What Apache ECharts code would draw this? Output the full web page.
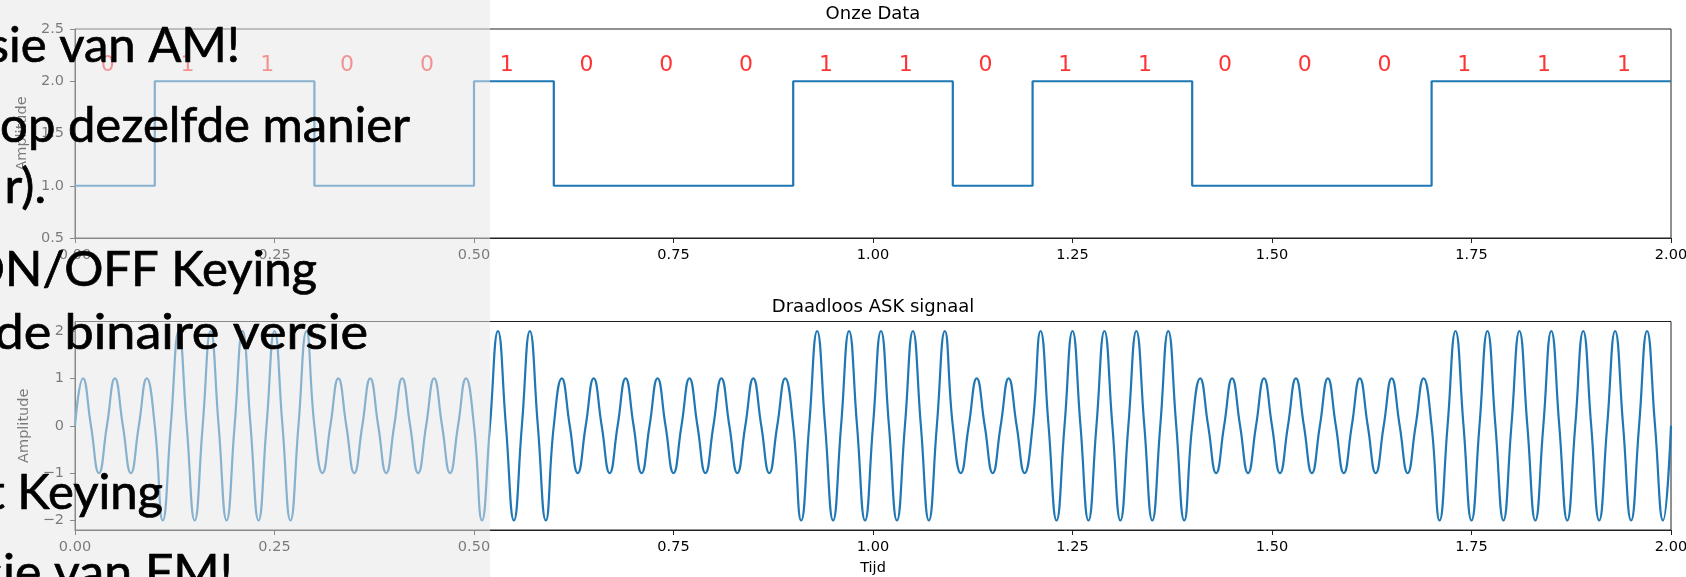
<!DOCTYPE html>
<html>
<head>
<meta charset="utf-8">
<title>ASK</title>
<script src="https://cdn.jsdelivr.net/npm/echarts@6/dist/echarts.min.js"></script>
<style>
  html, body { margin: 0; padding: 0; background: #fff; }
  #chart { width: 1686px; height: 577px; }
</style>
</head>
<body>
<div id="chart"></div>
<script>
// the bit string written above the top plot
const bits = ['0', '1', '1', '0', '0', '1', '0', '0', '0', '1', '1', '0', '1', '1', '0', '0', '0', '1', '1', '1'];
// square wave level of each bit
const levels = [1, 2, 2, 1, 1, 2, 1, 1, 1, 2, 2, 1, 2, 2, 1, 1, 1, 2, 2, 2];
const bitTime = 0.1;

// ASK signal: the top / bottom of every half cycle (5 half cycles per bit)
const halfPeaks = [
   1, -1,  1, -1,  1,
  -2,  2, -2,  2, -2,
   2, -2,  2, -2,  2,
  -1,  1, -1,  1, -1,
   1, -1,  1, -1,  1,
  -2,  2, -2,  2, -2,
   1, -1,  1, -1,  1,
  -1,  1, -1,  1, -1,
   1, -1,  1, -1,  1,
  -2,  2, -2,  2, -2,
   2, -2,  2, -2,  2,
  -1,  1, -1,  1, -1,
   2, -2,  2, -2,  2,
  -2,  2, -2,  2, -2,
   1, -1,  1, -1,  1,
  -1,  1, -1,  1, -1,
   1, -1,  1, -1,  1,
  -2,  2, -2,  2, -2,
   2, -2,  2, -2,  2,
  -2,  2, -2,  2, -2
];
const halfCycle = 0.02;

const askTicks = [-2, -1, 0, 1, 2];

// slide text lying over the figure (right end and baseline in px, width stretch)
const slideLines = [
  { text: 'sie van AM!', right: 240, base: 63, sx: 1 },
  { text: 'op dezelfde manier', right: 410, base: 143, sx: 1 },
  { text: 'r).', right: 46, base: 204, sx: 1 },
  { text: 'ON/OFF Keying', right: 317, base: 287, sx: 1 },
  { text: 'de binaire versie', right: 368, base: 350, sx: 1.065 },
  { text: 't Keying', right: 163, base: 510, sx: 1 },
  { text: 'sie van FM!', right: 233, base: 590, sx: 1.02 }
];

// build series data
const squareData = levels.map((v, i) => [i * bitTime, v]);
squareData.push([bits.length * bitTime, levels[levels.length - 1]]);

const askData = [[0, 0]];
halfPeaks.forEach((p, k) => {
  askData.push([k * halfCycle + halfCycle / 2, p]);
  askData.push([(k + 1) * halfCycle, 0]);
});

const labelData = bits.map((b, i) => [i * bitTime + 0.041, 2.15]);

const FONT = 'DejaVu Sans';
const BLUE = '#1f77b4';
const SLIDE_FONT = 49;

const axisCommon = {
  type: 'value',
  axisLine: { show: true, onZero: false, lineStyle: { color: '#222', width: 1 } },
  axisTick: { show: true, inside: false, length: 5, lineStyle: { color: '#222', width: 1 } },
  splitLine: { show: false },
  axisLabel: { color: '#000', fontSize: 14.5, fontFamily: FONT }
};

const chart = echarts.init(document.getElementById('chart'), null, { renderer: 'canvas' });

const panelTexts = slideLines.map(l => ({
  type: 'text',
  z: 101,
  silent: true,
  x: l.right,
  y: l.base - 0.387 * SLIDE_FONT + 2,
  scaleX: l.sx,
  style: {
    text: l.text,
    x: 0,
    y: 0,
    font: SLIDE_FONT + 'px Lato',
    fill: '#000',
    stroke: '#000',
    lineWidth: 0.7,
    textAlign: 'right',
    align: 'right',
    textVerticalAlign: 'middle',
    verticalAlign: 'middle'
  }
}));

const option = {
  animation: false,
  backgroundColor: '#fff',
  textStyle: { fontFamily: FONT },
  title: [
    {
      text: 'Onze Data', left: 873, top: 5.5, textAlign: 'center', padding: 0,
      textStyle: { fontFamily: FONT, fontSize: 18, fontWeight: 'normal', color: '#000' }
    },
    {
      text: 'Draadloos ASK signaal', left: 873, top: 298, textAlign: 'center', padding: 0,
      textStyle: { fontFamily: FONT, fontSize: 18, fontWeight: 'normal', color: '#000' }
    }
  ],
  grid: [
    { left: 75, right: 15, top: 29, height: 209, show: true, borderColor: '#222', borderWidth: 1,
      backgroundColor: 'transparent', containLabel: false, outerBoundsMode: 'none' },
    { left: 75, right: 15, top: 321.5, height: 208.5, show: true, borderColor: '#222', borderWidth: 1,
      backgroundColor: 'transparent', containLabel: false, outerBoundsMode: 'none' }
  ],
  xAxis: [
    Object.assign({}, axisCommon, {
      gridIndex: 0, min: 0, max: 2, interval: 0.25,
      axisLabel: Object.assign({}, axisCommon.axisLabel, { margin: 10, formatter: v => v.toFixed(2) })
    }),
    Object.assign({}, axisCommon, {
      gridIndex: 1, min: 0, max: 2, interval: 0.25,
      name: 'Tijd', nameLocation: 'middle', nameGap: 31,
      nameTextStyle: { color: '#000', fontSize: 14.5, fontFamily: FONT },
      axisLabel: Object.assign({}, axisCommon.axisLabel, { margin: 10, formatter: v => v.toFixed(2) })
    })
  ],
  yAxis: [
    Object.assign({}, axisCommon, {
      gridIndex: 0, min: 0.5, max: 2.5, interval: 0.5,
      name: 'Amplitude', nameLocation: 'middle', nameGap: 29,
      nameTextStyle: { color: '#000', fontSize: 14.5, fontFamily: FONT },
      axisLabel: Object.assign({}, axisCommon.axisLabel, { margin: 11, formatter: v => v.toFixed(1) })
    }),
    Object.assign({}, axisCommon, {
      gridIndex: 1, min: -2.2, max: 2.2,
      name: 'Amplitude', nameLocation: 'middle', nameGap: 29,
      nameTextStyle: { color: '#000', fontSize: 14.5, fontFamily: FONT },
      axisTick: Object.assign({}, axisCommon.axisTick, { customValues: askTicks }),
      axisLabel: Object.assign({}, axisCommon.axisLabel, {
        margin: 11, customValues: askTicks,
        formatter: v => String(v).replace('-', '\u2212')
      })
    })
  ],
  series: [
    {
      name: 'data', type: 'line', xAxisIndex: 0, yAxisIndex: 0,
      step: 'end', symbol: 'none', silent: true,
      lineStyle: { color: BLUE, width: 2.2 },
      data: squareData
    },
    {
      name: 'bits', type: 'scatter', xAxisIndex: 0, yAxisIndex: 0,
      symbolSize: 0, silent: true,
      label: {
        show: true, position: 'inside', color: '#ff0000',
        fontSize: 22, fontFamily: FONT,
        formatter: p => bits[p.dataIndex]
      },
      data: labelData
    },
    {
      name: 'ask', type: 'line', xAxisIndex: 1, yAxisIndex: 1,
      smooth: 0.5, symbol: 'none', silent: true,
      lineStyle: { color: BLUE, width: 2.2 },
      data: askData
    }
  ],
  graphic: [
    {
      type: 'rect', z: 100, silent: true,
      shape: { x: 0, y: 0, width: 490, height: 577 },
      style: { fill: 'rgba(230,230,230,0.525)' }
    },
    {
      type: 'circle', z: 101, silent: true,
      shape: { cx: 260, cy: 253, r: 2.5 },
      style: { fill: '#000' }
    }
  ].concat(panelTexts)
};

chart.setOption(option);
</script>
</body>
</html>
